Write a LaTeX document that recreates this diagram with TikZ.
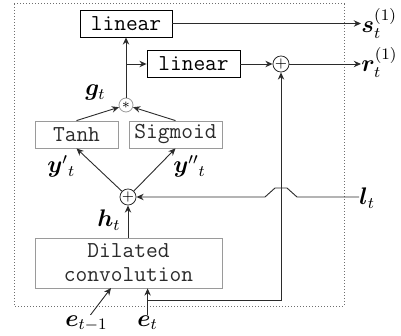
\documentclass[tikz,border=0pt]{standalone}
\usepackage{amsmath,amssymb}
\usepackage{bm}
\usepackage{xcolor}
\definecolor{ink}{HTML}{2B2B2B}
\definecolor{grayline}{HTML}{9A9A9A}
\definecolor{dotframe}{HTML}{6E6E6E}
\usetikzlibrary{arrows.meta,positioning,calc}
\newcommand{\boxfont}{\ttfamily\fontsize{11.4pt}{12pt}\selectfont}
\tikzset{
  >={Stealth[length=3.6pt,width=3.2pt]},
  lin/.style  ={draw=black,font=\boxfont,inner sep=0pt,
                minimum height=13.5pt,align=center},
  gbox/.style ={draw=grayline,font=\boxfont,inner sep=0pt,text=ink,
                minimum height=13.5pt,align=center},
  op/.style   ={circle,draw=ink,inner sep=0pt,minimum size=7pt,
                font=\scriptsize},
  lbl/.style  ={font=\large,inner sep=0pt,anchor=base west},
  flow/.style ={->,draw=ink,line width=0.45pt},
}
\begin{document}
\begin{tikzpicture}[x=0.5pt,y=-0.5pt]
\useasboundingbox (0,0) rectangle (401,336);
% outer frame of the block
\draw[dotframe,densely dotted,line width=0.5pt] (14,4) rectangle (344,306);
% boxes
\node[lin,minimum width=46pt] (lin1) at (126,23.5) {linear};
\node[lin,minimum width=46.5pt] (lin2) at (193.5,64) {linear};
\node[gbox,minimum width=41.5pt] (tanh) at (76.5,134.5) {Tanh};
\node[gbox,minimum width=46.5pt] (sigm) at (175.5,134.5) {Sigmoid};
\node[gbox,minimum width=93.5pt,minimum height=25pt] (dil) at (128.5,263)
  {Dilated\\convolution};
% operators
\node[op] (add1) at (281,64) {$+$};
\node[op,draw=grayline] (mul) at (126,105) {$\ast$};
\node[op] (add2) at (128,197) {$+$};
% labels
\node[lbl] (st) at (361,33) {$\bm{s}_t^{(1)}$};
\node[lbl] (rt) at (361,72) {$\bm{r}_t^{(1)}$};
\node[lbl] (lt) at (359,205) {$\bm{l}_t$};
\node[lbl] (gt) at (85,96) {$\bm{g}_t$};
\node[lbl] (yp) at (47,173) {$\bm{y}'{}_t$};
\node[lbl] (ypp) at (173,173) {$\bm{y}''{}_t$};
\node[lbl] (ht) at (97,227) {$\bm{h}_t$};
\node[lbl] (em1) at (65,326) {$\bm{e}_{t-1}$};
\node[lbl] (et) at (137,326) {$\bm{e}_t$};
% connectors
\draw[flow] (lin1.east) -- (lin1.east -| st.west);
\draw[flow] (mul.north) -- (lin1.south);
\draw[flow] (mul.north |- lin2.west) -- (lin2.west);
\draw[flow] (lin2.east) -- (add1.west);
\draw[flow] (add1.east) -- (add1.east -| rt.west);
\draw[flow] (tanh.north) -- (mul);
\draw[flow] (sigm.north) -- (mul);
\draw[flow] (add2) -- (tanh.south);
\draw[flow] (add2) -- (sigm.south);
\draw[flow] (dil.north -| add2) -- (add2.south);
% side input with a hop over the skip line
\coordinate (X) at (add1 |- add2);
\draw[flow] (lt.west |- add2) -- ($(X)+(16,0)$) -- ($(X)+(6,-9)$)
  -- ($(X)+(-6,-9)$) -- ($(X)+(-16,0)$) -- (add2.east);
% inputs
\coordinate (din) at (111,288);
\draw[flow] ([xshift=2pt]em1.north) -- (din);
\draw[flow] (et.north) -- (et.north |- dil.south);
\coordinate (br) at ($(et.north |- dil.south)+(0,12)$);
\draw[flow] (br) -| (add1.south);
\end{tikzpicture}
\end{document}
